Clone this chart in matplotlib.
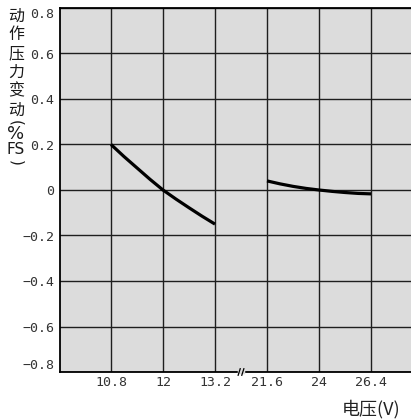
import numpy as np
import matplotlib
matplotlib.use("Agg")
import matplotlib.pyplot as plt
from matplotlib.transforms import blended_transform_factory

plt.rcParams['font.family'] = ['Noto Sans CJK SC', 'DejaVu Sans']

# ---- data ----
voltage_ticks = [10.8, 12, 13.2, 21.6, 24, 26.4]
x_tick_labels = ["10.8", "12", "13.2", "21.6", "24", "26.4"]
y_ticks = [-0.8, -0.6, -0.4, -0.2, 0, 0.2, 0.4, 0.6, 0.8]
y_tick_labels = ["\u22120.8", "\u22120.6", "\u22120.4", "\u22120.2", "0", "0.2", "0.4", "0.6", "0.8"]

low_v = [10.8, 11.1, 11.4, 11.7, 12.0, 12.3, 12.6, 12.9, 13.2]
low_change = [0.20, 0.147, 0.097, 0.047, 0.0, -0.040, -0.078, -0.115, -0.15]
high_v = [21.6, 22.2, 22.8, 23.4, 24.0, 24.6, 25.2, 25.8, 26.4]
high_change = [0.040, 0.027, 0.016, 0.007, 0.0, -0.006, -0.011, -0.015, -0.017]

x_label = "电压(V)"
y_label_chars = ["动", "作", "压", "力", "变", "动", "(", "%", "FS", ")"]

# map voltages onto the broken (categorical-style) axis
positions = np.arange(1, len(voltage_ticks) + 1)

def to_pos(v):
    return np.interp(v, voltage_ticks, positions)

W, H = 411, 419
fig = plt.figure(figsize=(W / 100, H / 100), dpi=100)
ax = fig.add_axes([60 / W, (H - 372) / H, (W - 60) / W, (372 - 8) / H])
ax.set_facecolor("#dcdcdc")

ax.plot(to_pos(low_v), low_change, color="black", lw=2.3, solid_capstyle="butt", zorder=3)
ax.plot(to_pos(high_v), high_change, color="black", lw=2.3, solid_capstyle="butt", zorder=3)

ax.set_xlim(1 - 51 / 52, 1 + 300 / 52)
ax.set_ylim(-0.8, 0.8)
ax.set_xticks(positions)
ax.set_xticklabels(x_tick_labels, fontsize=9.5, family="DejaVu Sans Mono", color="#333333")
ax.set_yticks(y_ticks)
ax.set_yticklabels(y_tick_labels, fontsize=9.5, family="DejaVu Sans Mono", color="#333333")
ax.tick_params(length=0, pad=3)
ax.tick_params(axis="y", pad=4)
labels = ax.get_yticklabels()
labels[0].set_va("bottom")
labels[-1].set_va("top")

ax.grid(True, color="#1e1e1e", lw=1.0, zorder=1)
ax.set_axisbelow(True)
for s in ["left", "bottom", "top"]:
    ax.spines[s].set_linewidth(1.3)
    ax.spines[s].set_color("black")
ax.spines["right"].set_visible(False)

# axis break mark between 13.2 and 21.6
tr = blended_transform_factory(ax.transData, ax.transAxes)
bx = 3.5
ax.plot([bx - 0.03, bx + 0.03], [0, 0], color="#dcdcdc", lw=2.5, transform=tr, clip_on=False, zorder=5)
for dx in (-0.035, 0.035):
    ax.plot([bx + dx - 0.02, bx + dx + 0.02], [-0.009, 0.009], color="black", lw=0.9,
            transform=tr, clip_on=False, zorder=6)

fig.text(400 / W, 1 - 409 / H, x_label, ha="right", va="center", fontsize=13, color="#222222")

y_label_rows = [16, 35, 54, 72, 91, 110, 123, 134, 149, 163]
for ch, yp in zip(y_label_chars, y_label_rows):
    rot = -90 if ch in "()" else 0
    size = {"FS": 11, "%": 13, "(": 11, ")": 11}.get(ch, 11.5)
    fam = ["DejaVu Sans"] if ch in "()%FS" else ["Noto Sans CJK SC", "DejaVu Sans"]
    fig.text(16 / W, 1 - yp / H, ch, ha="center", va="center", rotation=rot,
             fontsize=size, color="#1a1a1a", family=fam)

fig.savefig("out.png", dpi=100)
